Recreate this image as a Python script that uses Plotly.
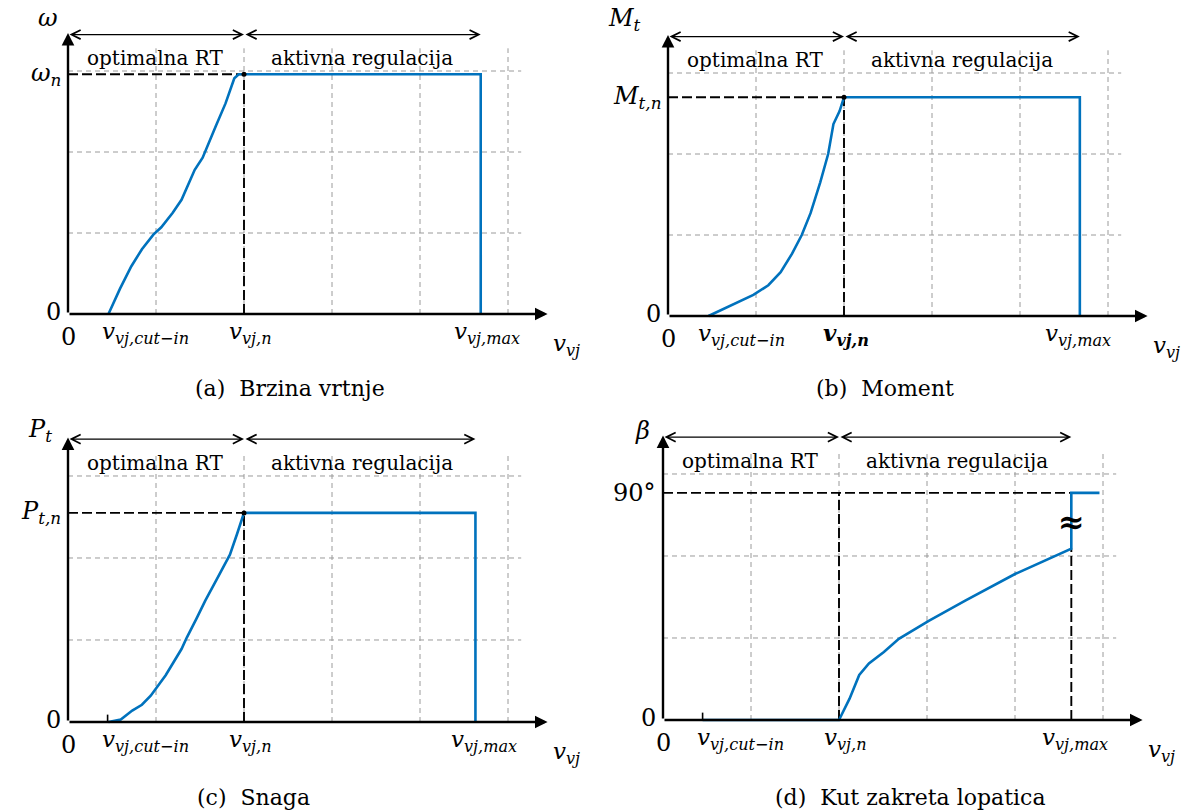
import plotly.graph_objects as go

W, H = 1182, 812
FONT = "DejaVu Serif"
BLUE = "#0072BD"
GRAY = "#9a9a9a"

# ---------------- data (grid units) ----------------
OMEGA_V = [0.46, 0.59, 0.72, 0.84, 0.97, 1.06, 1.19, 1.29, 1.44, 1.53, 1.68, 1.79, 1.89, 1.94, 2.00]
OMEGA   = [0.00, 0.31, 0.59, 0.80, 0.98, 1.07, 1.25, 1.41, 1.78, 1.93, 2.32, 2.60, 2.91, 2.96, 2.96]
MOMENT_V = [0.46, 0.80, 0.97, 1.14, 1.28, 1.41, 1.52, 1.62, 1.73, 1.82, 1.88, 1.95, 2.00]
MOMENT   = [0.00, 0.18, 0.26, 0.38, 0.54, 0.77, 1.00, 1.27, 1.65, 2.00, 2.37, 2.53, 2.70]
POWER_V = [0.46, 0.60, 0.73, 0.84, 0.94, 1.11, 1.29, 1.35, 1.46, 1.56, 1.69, 1.84, 1.92, 2.00]
POWER   = [0.00, 0.03, 0.14, 0.21, 0.32, 0.57, 0.89, 1.03, 1.26, 1.48, 1.74, 2.04, 2.29, 2.55]
PITCH_V = [0.45, 2.00, 2.12, 2.23, 2.34, 2.51, 2.68, 3.02, 3.44, 4.00, 4.64]
PITCH   = [0.00, 0.00, 0.26, 0.55, 0.69, 0.83, 0.99, 1.21, 1.46, 1.78, 2.09]
PITCH_END_V = 4.96

V_CUT_IN = 0.45
V_N = 2.0
V_MAX = [4.69, 4.68, 4.63, 4.64]
RATED = [2.96, 2.70, 2.55, 2.77]

GRID_X = [1, 2, 3, 4, 5]
GRID_Y = [1, 2, 3]

Y_SYMBOLS = ["<i>ω</i>", "<i>M</i><sub><i>t</i></sub>", "<i>P</i><sub><i>t</i></sub>", "<i>β</i>"]
RATED_LABELS = ["<i>ω</i><sub><i>n</i></sub>", "<i>M</i><sub><i>t,n</i></sub>",
                "<i>P</i><sub><i>t,n</i></sub>", "90°"]
X_TICK_LABELS = ["<i>v</i><sub><i>vj,cut−in</i></sub>", "<i>v</i><sub><i>vj,n</i></sub>",
                 "<i>v</i><sub><i>vj,max</i></sub>"]
X_TITLE = "<i>v</i><sub><i>vj</i></sub>"
REGIONS = ["optimalna RT", "aktivna regulacija"]
CAPTIONS = ["(a)\u00a0\u00a0Brzina vrtnje", "(b)\u00a0\u00a0Moment",
            "(c)\u00a0\u00a0Snaga", "(d)\u00a0\u00a0Kut zakreta lopatica"]

# ---------------- layout geometry (pixels) ----------------
ORIGINS = [(68, 314), (668, 316), (68, 722), (663, 720)]
Y_UNITS = [81, 81, 82, 82]
X_UNIT = 88
XR = [-0.75, 5.83]
YR = [-0.95, 3.85]
CAPTION_POS = [(290, 388), (885, 388), (253, 797), (910, 797)]
Y_SYM_POS = [(-0.23, 3.65), (-0.49, 3.66), (-0.32, 3.55), (-0.23, 3.52)]
TICK_X = [[0.875, 2.07, 4.76], [0.84, 2.02, 4.66], [0.875, 2.07, 4.73], [0.875, 2.07, 4.68]]

GRID_TOP = 3.28
GRID_RIGHT = 5.15
X_END = 5.45
Y_END = 3.47
ARROW_Y = 3.45

fig = go.Figure()
annotations = []


def txt(xref, yref, x, y, text, size=22, xanchor="center", yanchor="middle", family=FONT):
    annotations.append(go.layout.Annotation(
        x=x, y=y, xref=xref, yref=yref, text=text, showarrow=False,
        xanchor=xanchor, yanchor=yanchor,
        font=go.layout.annotation.Font(family=family, size=size, color="black")))


def line(xa, ya, xs, ys, color, width, dash=None):
    fig.add_trace(go.Scatter(x=xs, y=ys, mode="lines", xaxis=xa, yaxis=ya,
                             line=dict(color=color, width=width, dash=dash),
                             hoverinfo="skip", showlegend=False))


curves = [(OMEGA_V, OMEGA), (MOMENT_V, MOMENT), (POWER_V, POWER), (PITCH_V, PITCH)]

for i in range(4):
    k = "" if i == 0 else str(i + 1)
    xa, ya = "x" + k, "y" + k
    ox, oy = ORIGINS[i]
    yu = Y_UNITS[i]
    x0 = ox + XR[0] * X_UNIT
    x1 = ox + XR[1] * X_UNIT
    ytop = oy - YR[1] * yu
    ybot = oy - YR[0] * yu
    fig.layout["xaxis" + k] = dict(domain=[x0 / W, x1 / W], range=XR, visible=False,
                                   fixedrange=True, anchor=ya)
    fig.layout["yaxis" + k] = dict(domain=[1 - ybot / H, 1 - ytop / H], range=YR,
                                   visible=False, fixedrange=True, anchor=xa)

    vmax = V_MAX[i]
    rated = RATED[i]

    # grey dashed grid
    gx, gy = [], []
    for g in GRID_X:
        gx += [g, g, None]
        gy += [0, GRID_TOP, None]
    for g in GRID_Y:
        gx += [0, GRID_RIGHT, None]
        gy += [g, g, None]
    line(xa, ya, gx, gy, GRAY, 1, "5px,4px")

    # black dashed guide lines
    bx = [0, V_N if i < 3 else vmax, None, V_N, V_N, None]
    by = [rated, rated, None, 0, rated, None]
    if i == 3:
        bx += [vmax, vmax]
        by += [0, PITCH[-1]]
    line(xa, ya, bx, by, "black", 1.9, "10px,4px")

    # blue curve
    cv, cy = curves[i]
    if i < 3:
        xs = list(cv) + [vmax, vmax]
        ys = list(cy) + [rated, 0]
    else:
        xs = list(cv) + [vmax, PITCH_END_V]
        ys = list(cy) + [rated, rated]
    line(xa, ya, xs, ys, BLUE, 2.6)

    # small tick at cut-in speed for (c), (d)
    if i >= 2:
        line(xa, ya, [V_CUT_IN, V_CUT_IN], [0, 0.09], "black", 1.6)

    # rated point dot
    if i < 3:
        fig.add_trace(go.Scatter(x=[V_N], y=[rated], mode="markers", xaxis=xa, yaxis=ya,
                                 marker=dict(color="black", size=5), hoverinfo="skip",
                                 showlegend=False))

    # axes with arrow heads
    for (tx, ty) in [(X_END, 0), (0, Y_END)]:
        annotations.append(dict(x=tx, y=ty, ax=0, ay=0, xref=xa, yref=ya, axref=xa, ayref=ya,
                                text="", showarrow=True, arrowhead=2, arrowsize=1.05,
                                arrowwidth=2.4, arrowcolor="black"))
    # region double arrows
    for (a, b) in [(0, V_N), (V_N, vmax)]:
        annotations.append(dict(x=b, y=ARROW_Y, ax=a, ay=ARROW_Y, xref=xa, yref=ya,
                                axref=xa, ayref=ya, text="", showarrow=True,
                                arrowside="end+start", arrowhead=5, startarrowhead=5,
                                arrowsize=1.5, startarrowsize=1.5, arrowwidth=1.2,
                                arrowcolor="black"))
    txt(xa, ya, 0.99, 3.16, REGIONS[0], size=20)
    txt(xa, ya, 3.34, 3.16, REGIONS[1], size=20)

    # axis texts
    sx, sy = Y_SYM_POS[i]
    txt(xa, ya, sx, sy, Y_SYMBOLS[i], size=24)
    txt(xa, ya, -0.06, rated, RATED_LABELS[i], size=24, xanchor="right")
    txt(xa, ya, -0.06, 0.03, "0", size=24, xanchor="right")
    txt(xa, ya, 0, -0.28, "0", size=24)
    tick_vals = [TICK_X[i][0], TICK_X[i][1], TICK_X[i][2]]
    for j, lab in enumerate(X_TICK_LABELS):
        if i == 1 and j == 1:
            lab = "<b>" + lab + "</b>"
        txt(xa, ya, tick_vals[j], -0.23, lab, size=23)
    txt(xa, ya, 5.66, -0.38, X_TITLE, size=23)

    if i == 3:
        txt(xa, ya, vmax, 2.41, "<b>≈</b>", size=32)

    cx, cy_ = CAPTION_POS[i]
    txt("paper", "paper", cx / W, 1 - cy_ / H, CAPTIONS[i], size=22)

fig.update_layout(width=W, height=H, margin=dict(l=0, r=0, t=0, b=0),
                  paper_bgcolor="white", plot_bgcolor="white",
                  font=dict(family=FONT, size=22, color="black"),
                  annotations=annotations, showlegend=False)

fig.write_html("out.html", config={"displayModeBar": False},
               post_script="document.body.style.margin='0';")
